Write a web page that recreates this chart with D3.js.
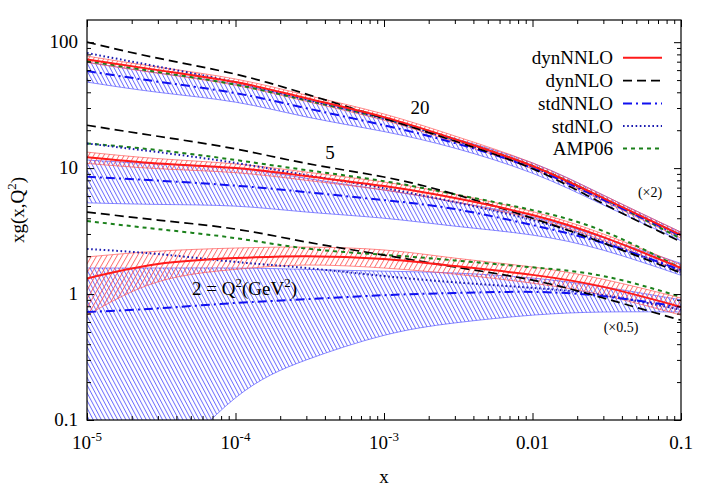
<!DOCTYPE html>
<html><head><meta charset="utf-8">
<script src="https://cdn.jsdelivr.net/npm/d3@7"></script>
<style>
body{margin:0;background:#fff}
svg text{font-family:"Liberation Serif","Tinos","Times New Roman","Times","Nimbus Roman","Nimbus Roman No9 L","FreeSerif","Noto Serif","DejaVu Serif","Georgia",serif !important;}
</style>
</head><body>
<svg id="c" width="706" height="494"></svg>
<script>
// ---------- data ----------
const xs = [1e-5, 3e-5, 1e-4, 3e-4, 1e-3, 3e-3, 1e-2, 3e-2, 1e-1];

// Q^2 = 20 (x2)
const q20_dynNNLO    = [73, 60, 48.2, 35.9, 25.4, 17.0, 10.4, 5.78, 2.94];
const q20_dynNNLO_hi = [77.5, 63.5, 51, 38, 26.9, 18.0, 11.0, 6.1, 3.1];
const q20_dynNNLO_lo = [69, 56.7, 45.5, 33.9, 24, 16.1, 9.85, 5.48, 2.78];
const q20_dynNLO     = [100, 74.6, 55.7, 38.7, 24.9, 16.4, 9.9, 5.2, 2.6];
const q20_stdNNLO    = [59, 48.6, 39.4, 29.9, 21.9, 15.8, 10.0, 5.6, 2.9];
const q20_stdNNLO_hi = [69.4, 57, 46.5, 35, 25, 17.2, 11.0, 6.1, 3.1];
const q20_stdNNLO_lo = [48.2, 40, 33.4, 25.5, 19.5, 14.4, 9.1, 5.1, 2.65];
const q20_stdNLO     = [82, 64, 48, 35, 24.6, 16.6, 10.2, 5.7, 2.95];
const q20_AMP06      = [71, 58, 46, 34.5, 24.8, 16.9, 10.4, 5.75, 2.75];

// Q^2 = 5
const q5_dynNNLO    = [12.2, 10.9, 10.0, 8.64, 7.2, 5.78, 4.24, 2.83, 1.61];
const q5_dynNNLO_hi = [13.4, 11.9, 10.8, 9.3, 7.75, 6.2, 4.52, 3.0, 1.71];
const q5_dynNNLO_lo = [10.9, 9.9, 9.2, 8.0, 6.7, 5.38, 3.97, 2.66, 1.51];
const q5_dynNLO     = [21.9, 17.9, 14.2, 10.9, 8.5, 6.2, 4.0, 2.54, 1.47];
const q5_stdNNLO    = [8.53, 7.96, 7.26, 6.45, 5.57, 4.73, 3.53, 2.54, 1.55];
const q5_stdNNLO_hi = [11.6, 10.8, 10.0, 8.3, 6.7, 5.4, 4.1, 2.8, 1.75];
const q5_stdNNLO_lo = [5.3, 5.15, 4.99, 4.48, 4.0, 3.46, 2.94, 2.23, 1.41];
const q5_stdNLO     = [15.7, 13.4, 11.0, 8.8, 6.94, 5.37, 3.87, 2.59, 1.5];
const q5_AMP06      = [15.7, 13.9, 11.6, 9.64, 7.88, 6.2, 4.64, 3.16, 1.6];

// Q^2 = 2 (x0.5)
const q2_dynNNLO    = [1.33, 1.73, 1.93, 2.0, 1.9, 1.67, 1.42, 1.14, 0.79];
const q2_dynNNLO_hi = [1.97, 2.19, 2.32, 2.36, 2.24, 1.93, 1.64, 1.31, 0.93];
const q2_dynNNLO_lo = [0.68, 1.25, 1.57, 1.7, 1.61, 1.44, 1.22, 0.98, 0.68];
const q2_dynNLO     = [4.48, 3.87, 3.28, 2.59, 2.04, 1.64, 1.29, 0.93, 0.62];
const q2_stdNNLO    = [0.72, 0.77, 0.85, 0.91, 0.98, 1.02, 1.04, 0.96, 0.79];
const q2_stdNNLO_hi = [1.61, 1.61, 1.61, 1.57, 1.52, 1.47, 1.34, 1.14, 0.9];
const q2_stdNNLO_lo = [0.005, 0.033, 0.15, 0.30, 0.47, 0.59, 0.68, 0.72, 0.72];
const q2_stdNLO     = [2.28, 2.08, 1.8, 1.61, 1.39, 1.24, 1.12, 0.98, 0.75];
const q2_AMP06      = [3.8, 3.28, 2.78, 2.3, 2.05, 1.85, 1.63, 1.39, 0.95];

const seriesNames = ["dynNNLO", "dynNLO", "stdNNLO", "stdNLO", "AMP06"];
const xTickValues = [1e-5, 1e-4, 1e-3, 1e-2, 1e-1];
const xTickLabels = [["10","-5"], ["10","-4"], ["10","-3"], ["0.01",""], ["0.1",""]];
const yTickValues = [0.1, 1, 10, 100];
const yTickLabels = ["0.1", "1", "10", "100"];

// ---------- setup ----------
const L = 87, R = 681, T = 20, B = 420;
const svg = d3.select("#c");
const X = d3.scaleLog().domain([1e-5, 0.1]).range([L, R]);
const Y = d3.scaleLog().domain([0.1, 150]).range([B, T]);

const styles = {
  dynNNLO: {color: "#ff1a1a", width: 2, dash: null},
  dynNLO:  {color: "#000000", width: 1.7, dash: "9,5"},
  stdNNLO: {color: "#1010f0", width: 2, dash: "9,4,2,4"},
  stdNLO:  {color: "#1a1ab0", width: 2, dash: "1.6,2.6"},
  AMP06:   {color: "#1a801a", width: 2, dash: "4,4"}
};

const defs = svg.append("defs");
defs.append("clipPath").attr("id", "plotclip")
  .append("rect").attr("x", L).attr("y", T).attr("width", R - L).attr("height", B - T);

function hatch(id, color, angle, spacing) {
  const p = defs.append("pattern").attr("id", id)
    .attr("patternUnits", "userSpaceOnUse")
    .attr("width", spacing).attr("height", 10)
    .attr("patternTransform", `rotate(${angle})`);
  p.append("line").attr("x1", 0.5).attr("y1", 0).attr("x2", 0.5).attr("y2", 10)
    .attr("stroke", color).attr("stroke-width", 0.8);
}
hatch("hatchRed", "#ff4a4a", 30, 4.4);
hatch("hatchBlue", "#4a4aff", -28, 3.6);

const plot = svg.append("g").attr("clip-path", "url(#plotclip)");

const lineGen = d3.line().x(d => X(d[0])).y(d => Y(d[1])).curve(d3.curveNatural);
const areaGen = d3.area().x(d => X(d[0])).y0(d => Y(d[1])).y1(d => Y(d[2])).curve(d3.curveNatural);

function band(lo, hi, fillId, color) {
  const data = xs.map((x, i) => [x, lo[i], hi[i]]);
  plot.append("path").attr("d", areaGen(data)).attr("fill", `url(#${fillId})`).attr("stroke", "none");
  [lo, hi].forEach(arr => {
    plot.append("path").attr("d", lineGen(xs.map((x, i) => [x, arr[i]])))
      .attr("fill", "none").attr("stroke", color).attr("stroke-width", 0.8).attr("opacity", 0.8);
  });
}
function curve(vals, name) {
  const s = styles[name];
  const p = plot.append("path").attr("d", lineGen(xs.map((x, i) => [x, vals[i]])))
    .attr("fill", "none").attr("stroke", s.color).attr("stroke-width", s.width);
  if (s.dash) p.attr("stroke-dasharray", s.dash);
}

const groups = [
  {dynNNLO: q20_dynNNLO, hi: q20_dynNNLO_hi, lo: q20_dynNNLO_lo, dynNLO: q20_dynNLO,
   stdNNLO: q20_stdNNLO, shi: q20_stdNNLO_hi, slo: q20_stdNNLO_lo, stdNLO: q20_stdNLO, AMP06: q20_AMP06},
  {dynNNLO: q5_dynNNLO, hi: q5_dynNNLO_hi, lo: q5_dynNNLO_lo, dynNLO: q5_dynNLO,
   stdNNLO: q5_stdNNLO, shi: q5_stdNNLO_hi, slo: q5_stdNNLO_lo, stdNLO: q5_stdNLO, AMP06: q5_AMP06},
  {dynNNLO: q2_dynNNLO, hi: q2_dynNNLO_hi, lo: q2_dynNNLO_lo, dynNLO: q2_dynNLO,
   stdNNLO: q2_stdNNLO, shi: q2_stdNNLO_hi, slo: q2_stdNNLO_lo, stdNLO: q2_stdNLO, AMP06: q2_AMP06}
];

groups.forEach(g => band(g.slo, g.shi, "hatchBlue", "#4a4aff"));
groups.forEach(g => band(g.lo, g.hi, "hatchRed", "#ff4a4a"));
groups.forEach(g => {
  curve(g.AMP06, "AMP06");
  curve(g.stdNLO, "stdNLO");
  curve(g.stdNNLO, "stdNNLO");
  curve(g.dynNLO, "dynNLO");
  curve(g.dynNNLO, "dynNNLO");
});

// ---------- axes ----------
function minorTicks(lo, hi) {
  const out = [];
  for (let d = -6; d <= 3; d++) for (let k = 2; k <= 9; k++) {
    const v = k * Math.pow(10, d);
    if (v > lo * 1.0001 && v < hi * 0.9999) out.push(v);
  }
  return out;
}
const xMin = minorTicks(1e-5, 0.1), yMin = minorTicks(0.1, 150);

function addAxis(axis, tr) {
  const g = svg.append("g").attr("transform", tr).call(axis);
  g.select(".domain").remove();
  g.selectAll("line").attr("stroke", "#000").attr("stroke-width", 1);
  g.selectAll("text").remove();
}
[[xTickValues, 7], [xMin, 4]].forEach(([vals, s]) => {
  addAxis(d3.axisBottom(X).tickValues(vals).tickSize(-s).tickSizeOuter(0), `translate(0,${B})`);
  addAxis(d3.axisTop(X).tickValues(vals).tickSize(-s).tickSizeOuter(0), `translate(0,${T})`);
});
[[yTickValues, 7], [yMin, 4]].forEach(([vals, s]) => {
  addAxis(d3.axisLeft(Y).tickValues(vals).tickSize(-s).tickSizeOuter(0), `translate(${L},0)`);
  addAxis(d3.axisRight(Y).tickValues(vals).tickSize(-s).tickSizeOuter(0), `translate(${R},0)`);
});
svg.append("rect").attr("x", L).attr("y", T).attr("width", R - L).attr("height", B - T)
  .attr("fill", "none").attr("stroke", "#000").attr("stroke-width", 1.2);

function txt(x, y, size, anchor) {
  return svg.append("text").attr("x", x).attr("y", y)
    .style("font-size", size + "px")
    .attr("fill", "#000").attr("text-anchor", anchor || "start");
}

// tick labels
xTickValues.forEach((v, i) => {
  const t = txt(X(v), 449, 19, "middle");
  t.append("tspan").text(xTickLabels[i][0]);
  if (xTickLabels[i][1]) t.append("tspan").attr("dy", -8).style("font-size", "13px").text(xTickLabels[i][1]);
});
yTickValues.forEach((v, i) => {
  txt(78, Y(v) + 6, 19, "end").text(yTickLabels[i]);
});

// axis titles
txt(384, 483, 19, "middle").text("x");
const yl = txt(0, 0, 19, "middle").attr("transform", "translate(24,210) rotate(-90)");
yl.append("tspan").text("xg(x,Q");
yl.append("tspan").attr("dy", -8).style("font-size", "13px").text("2");
yl.append("tspan").attr("dy", 8).text(")");

// annotations
txt(420, 114, 19, "middle").text("20");
txt(330, 159, 19, "middle").text("5");
const qa = txt(192, 295, 19, "start");
qa.append("tspan").text("2 = Q");
qa.append("tspan").attr("dy", -8).style("font-size", "13px").text("2");
qa.append("tspan").attr("dy", 8).text("(GeV");
qa.append("tspan").attr("dy", -8).style("font-size", "13px").text("2");
qa.append("tspan").attr("dy", 8).text(")");
txt(650, 197, 14, "middle").text("(×2)");
txt(621, 332, 14, "middle").text("(×0.5)");

// legend
const legRows = [57.7, 80.7, 103.5, 126, 148.5];
seriesNames.forEach((n, i) => {
  const s = styles[n];
  txt(613, legRows[i] + 6.5, 19, "end").text(n);
  const l = svg.append("line").attr("x1", 623).attr("x2", 662).attr("y1", legRows[i]).attr("y2", legRows[i])
    .attr("stroke", s.color).attr("stroke-width", s.width);
  if (s.dash) l.attr("stroke-dasharray", s.dash);
});
</script>
</body></html>
